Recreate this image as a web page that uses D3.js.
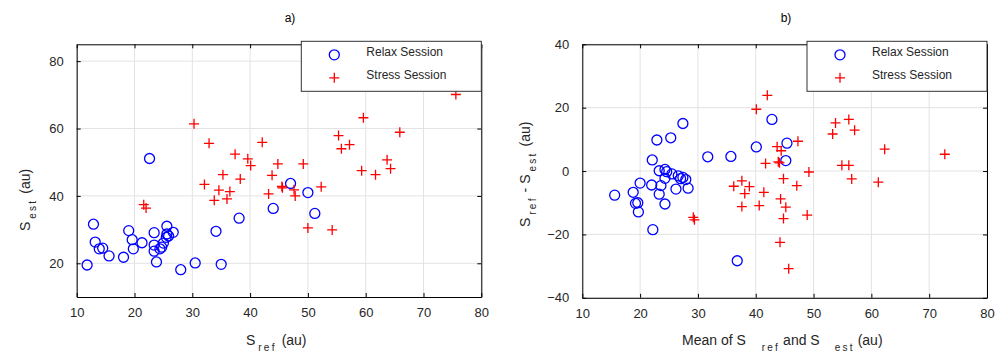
<!DOCTYPE html>
<html>
<head>
<meta charset="utf-8">
<script src="https://cdn.jsdelivr.net/npm/d3@7"></script>
<style>
  html, body { margin: 0; padding: 0; background: #fff; }
  svg { display: block; font-family: "Liberation Sans", Arial, sans-serif; }
</style>
</head>
<body>
<svg id="chart" width="1003" height="353"></svg>
<script>
// ---- Data ----
const seriesNames = ["Relax Session", "Stress Session"];
const panelTitles = ["a)", "b)"];

// Panel a): S_ref vs S_est
const relaxRef = [11.8, 12.9, 13.2, 13.9, 14.5, 15.6, 18.1, 19.0, 19.6, 19.8, 21.3, 22.6, 23.4, 23.4, 23.4, 23.8, 24.4, 25.0, 25.6, 25.6, 25.9, 26.7, 25.5, 24.7, 28.0, 30.5, 34.1, 35.0, 38.1, 44.0, 47.0, 50.0, 51.2];
const relaxEst = [19.5, 31.6, 26.3, 24.3, 24.5, 22.2, 21.8, 29.7, 27.0, 24.3, 26.1, 51.1, 29.1, 25.4, 23.6, 20.4, 24.3, 26.0, 31.0, 28.7, 28.1, 29.2, 27.7, 24.8, 18.1, 20.1, 29.5, 19.7, 33.4, 36.3, 43.7, 41.0, 34.8];
const stressRef = [21.6, 22.0, 30.3, 32.9, 32.1, 33.8, 34.6, 35.3, 36.0, 36.5, 37.4, 38.3, 39.6, 40.1, 42.1, 43.2, 43.8, 44.8, 45.5, 45.6, 47.6, 47.8, 49.2, 50.0, 52.3, 54.2, 55.3, 55.8, 57.2, 59.3, 59.6, 61.7, 63.7, 64.3, 65.9, 75.6];
const stressEst = [37.4, 36.4, 61.4, 55.6, 43.4, 38.7, 41.7, 46.3, 39.1, 41.3, 52.4, 45.0, 51.0, 49.0, 55.9, 40.6, 46.1, 49.5, 42.8, 42.4, 41.8, 40.0, 49.5, 30.5, 42.7, 29.9, 57.9, 54.0, 55.2, 47.5, 63.2, 46.3, 50.7, 48.1, 58.9, 70.1];

// Panel b): Bland-Altman (mean vs difference)
const relaxMean = [15.6, 18.8, 19.2, 19.6, 19.7, 20.0, 22.2, 22.1, 22.9, 22.0, 23.3, 23.6, 24.3, 23.3, 24.3, 24.6, 25.3, 24.3, 25.5, 26.2, 26.6, 27.0, 27.4, 27.9, 28.3, 27.4, 31.7, 35.7, 36.8, 40.1, 42.8, 45.4, 45.2];
const relaxDiff = [-7.6, -6.7, -10.2, -10.0, -12.9, -3.8, -18.5, 3.5, 9.8, -4.4, -7.3, -4.6, -10.4, 0.1, 0.5, -0.2, 10.5, -2.3, -0.9, -5.7, -1.5, -2.4, -2.0, -2.7, -5.4, 15.0, 4.5, 4.6, -28.3, 7.6, 16.3, 8.8, 3.3];
const stressMean = [29.2, 29.4, 36.2, 37.6, 38.9, 38.1, 37.6, 40.6, 41.4, 40.1, 42.0, 41.7, 43.7, 44.4, 43.9, 44.1, 44.8, 44.3, 45.2, 44.8, 44.2, 45.7, 47.3, 47.1, 49.2, 48.9, 53.3, 53.8, 56.1, 57.1, 54.9, 56.1, 56.6, 62.3, 61.2, 72.7];
const stressDiff = [-14.6, -15.4, -4.8, -3.1, -4.9, -7.1, -11.2, -10.9, -6.7, 19.5, 23.9, 2.4, 7.7, 6.4, 2.9, 2.6, -2.4, -8.8, -11.4, -15.0, -22.5, -30.8, 9.4, -4.6, -0.3, -13.9, 11.7, 15.2, 16.3, 12.9, 1.8, 1.8, -2.5, 6.9, -3.5, 5.3];

// Tick values
const xTicks = [10, 20, 30, 40, 50, 60, 70, 80];
const yTicksA = [20, 40, 60, 80];
const yTicksB = [-40, -20, 0, 20, 40];

// ---- Drawing ----
const svg = d3.select("#chart");
svg.append("rect").attr("width", 1003).attr("height", 353).attr("fill", "#fff");

const BLUE = "#0000ff", RED = "#ff0000", GRID = "#e3e3e3", TXT = "#262626";

function crossPath(s) { return `M${-s},0H${s}M0,${-s}V${s}`; }

function panel(cfg) {
  const x = d3.scaleLinear().domain(cfg.xDomain).range([cfg.left, cfg.right]);
  const y = d3.scaleLinear().domain(cfg.yDomain).range([cfg.bottom, cfg.top]);
  const g = svg.append("g");

  // grid
  g.append("g").selectAll("line").data(cfg.xTicks).join("line")
    .attr("x1", d => x(d)).attr("x2", d => x(d))
    .attr("y1", cfg.top).attr("y2", cfg.bottom)
    .attr("stroke", GRID).attr("stroke-width", 1);
  g.append("g").selectAll("line").data(cfg.yTicks).join("line")
    .attr("x1", cfg.left).attr("x2", cfg.right)
    .attr("y1", d => y(d)).attr("y2", d => y(d))
    .attr("stroke", GRID).attr("stroke-width", 1);

  // axes
  const fmt = d3.format("d");
  const ax = [
    g.append("g").attr("transform", `translate(0,${cfg.bottom})`)
      .call(d3.axisBottom(x).tickValues(cfg.xTicks).tickFormat(fmt).tickSizeInner(-4).tickSizeOuter(0).tickPadding(11)),
    g.append("g").attr("transform", `translate(${cfg.left},0)`)
      .call(d3.axisLeft(y).tickValues(cfg.yTicks).tickFormat(fmt).tickSizeInner(-4).tickSizeOuter(0).tickPadding(13)),
    g.append("g").attr("transform", `translate(0,${cfg.top})`)
      .call(d3.axisTop(x).tickValues(cfg.xTicks).tickFormat("").tickSizeInner(-4).tickSizeOuter(0)),
    g.append("g").attr("transform", `translate(${cfg.right},0)`)
      .call(d3.axisRight(y).tickValues(cfg.yTicks).tickFormat("").tickSizeInner(-4).tickSizeOuter(0))
  ];
  ax.forEach(a => {
    a.select(".domain").attr("stroke", "#000").attr("stroke-width", 1);
    a.selectAll(".tick line").attr("stroke", "#000");
    a.selectAll(".tick text").attr("font-size", 13).attr("fill", TXT)
      .attr("font-family", "Liberation Sans, Arial, sans-serif");
  });

  // points
  g.append("g").selectAll("circle").data(d3.range(cfg.rx.length)).join("circle")
    .attr("cx", i => x(cfg.rx[i])).attr("cy", i => y(cfg.ry[i])).attr("r", 5)
    .attr("fill", "none").attr("stroke", BLUE).attr("stroke-width", 1.3);
  g.append("g").selectAll("path").data(d3.range(cfg.sx.length)).join("path")
    .attr("transform", i => `translate(${x(cfg.sx[i])},${y(cfg.sy[i])})`)
    .attr("d", crossPath(5)).attr("fill", "none").attr("stroke", RED).attr("stroke-width", 1.3);

  // legend
  const lx = cfg.right - 180, ly = cfg.top - 3;
  const lg = g.append("g");
  lg.append("rect").attr("x", lx).attr("y", ly).attr("width", 180).attr("height", 50)
    .attr("fill", "#fff").attr("stroke", "#333").attr("stroke-width", 1);
  lg.append("circle").attr("cx", lx + 33).attr("cy", ly + 13.5).attr("r", 5)
    .attr("fill", "none").attr("stroke", BLUE).attr("stroke-width", 1.3);
  lg.append("path").attr("transform", `translate(${lx + 33},${ly + 36.5})`).attr("d", crossPath(5))
    .attr("stroke", RED).attr("stroke-width", 1.3);
  lg.append("text").attr("x", lx + 65).attr("y", ly + 15).attr("font-size", 12).attr("fill", TXT).text(seriesNames[0]);
  lg.append("text").attr("x", lx + 65).attr("y", ly + 38).attr("font-size", 12).attr("fill", TXT).text(seriesNames[1]);

  // title
  svg.append("text").attr("x", cfg.titleX).attr("y", 22)
    .attr("text-anchor", "middle").attr("font-size", 12).attr("fill", "#000").text(cfg.title);
  return { x, y };
}

panel({ left: 76.7, right: 481.3, top: 44.3, bottom: 297, xDomain: [10, 80], yDomain: [10, 85],
  xTicks: xTicks, yTicks: yTicksA, rx: relaxRef, ry: relaxEst, sx: stressRef, sy: stressEst,
  title: panelTitles[0], titleX: 290 });
panel({ left: 582.3, right: 987, top: 44.3, bottom: 297.8, xDomain: [10, 80], yDomain: [-40, 40],
  xTicks: xTicks, yTicks: yTicksB, rx: relaxMean, ry: relaxDiff, sx: stressMean, sy: stressDiff,
  title: panelTitles[1], titleX: 786 });

// axis labels with subscripts
function label(x, y, parts, rotate) {
  const t = svg.append("text").attr("font-size", 14).attr("fill", TXT)
    .attr("transform", rotate ? `translate(${x},${y}) rotate(-90)` : `translate(${x},${y})`);
  parts.forEach(p => {
    const ts = t.append("tspan").text(p.t);
    if (p.sub) ts.attr("font-size", 10).attr("letter-spacing", 2.2).attr("dy", 6).attr("dx", p.dx || 4);
    else if (p.after) ts.attr("dy", -6).attr("dx", p.dx || 0);
    else if (p.dx) ts.attr("dx", p.dx);
  });
  return t;
}
label(246, 345, [{ t: "S" }, { t: "ref", sub: true, dx: 3 }, { t: "(au)", after: true, dx: 5 }]);
label(30, 231, [{ t: "S" }, { t: "est", sub: true, dx: 3 }, { t: "(au)", after: true, dx: 5 }], true);
label(682, 345, [{ t: "Mean of S" }, { t: "ref", sub: true, dx: 16 }, { t: "and S", after: true, dx: 3 }, { t: "est", sub: true, dx: 15 }, { t: "(au)", after: true, dx: 3 }]);
label(530, 227, [{ t: "S" }, { t: "ref", sub: true, dx: 3 }, { t: "- S", after: true, dx: 4 }, { t: "est", sub: true, dx: 3 }, { t: "(au)", after: true, dx: 5 }], true);
</script>
</body>
</html>
